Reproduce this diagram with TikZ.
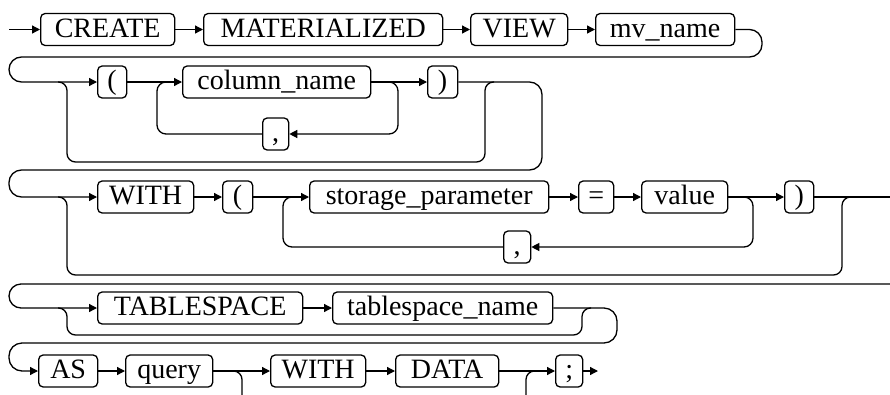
\documentclass[tikz,border=0pt]{standalone}
\usepackage{fontspec}
\setmainfont{Liberation Serif}
\usetikzlibrary{arrows.meta}
\begin{document}
\begin{tikzpicture}[x=1pt,y=-1pt,
  line width=1.3pt,
  box/.style={draw, rounded corners=4.5pt, anchor=west, inner sep=0pt,
    minimum height=32pt, text height=20pt, text depth=5pt,
    font=\fontsize{28}{30}\selectfont},
  arr/.style={-{Triangle[length=8pt,width=8pt]}},
  rc/.style={rounded corners=#1}]
\clip (0,0) rectangle (890,394);
% row 1
\coordinate (start) at (9,29.5);
\node[box, minimum width=134pt] (create) at (40,29.5) {CREATE};
\node[box, minimum width=239pt] (mat) at (203,29.5) {MATERIALIZED};
\node[box, minimum width=97pt] (view) at (470,29.5) {VIEW};
\node[box, minimum width=139pt] (mv) at (595,29.5) {mv\_name};
% row 2
\node[box, minimum width=29pt] (lpa) at (97,82) {(};
\node[box, minimum width=188pt] (col) at (182,82) {column\_name};
\node[box, minimum width=30pt] (rpa) at (427,82) {)};
\node[box, minimum width=26pt] (cma) at (262,134) {,};
% row 3
\node[box, minimum width=96pt] (witha) at (97,197) {WITH};
\node[box, minimum width=30pt] (lpb) at (222,197) {(};
\node[box, minimum width=239pt] (sp) at (309,197) {storage\_parameter};
\node[box, minimum width=35pt] (eq) at (578,197) {=};
\node[box, minimum width=86pt] (val) at (641,197) {value};
\node[box, minimum width=29pt] (rpb) at (784,197) {)};
\node[box, minimum width=27pt] (cmb) at (503,247) {,};
% row 4
\node[box, minimum width=205pt] (ts) at (97,308) {TABLESPACE};
\node[box, minimum width=220pt] (tsn) at (332,308) {tablespace\_name};
% row 5
\node[box, minimum width=59pt] (as) at (38,371) {AS};
\node[box, minimum width=87pt] (query) at (125,371) {query};
\node[box, minimum width=95pt] (withb) at (270,371) {WITH};
\node[box, minimum width=103pt] (data) at (395,371) {DATA};
\node[box, minimum width=27pt] (semi) at (555,371) {;};
\coordinate (endp) at (598,371);

% junction coordinates
\coordinate (e1a) at (762,29.5);
\coordinate (e1b) at (9,57);
\coordinate (b2s) at (58,82);
\coordinate (b2e) at (494,82);
\coordinate (l2s) at (389,82);
\coordinate (l2e) at (166,82);
\coordinate (e2a) at (542,82);
\coordinate (e2b) at (9,170);
\coordinate (b3s) at (58,197);
\coordinate (b3e) at (851,197);
\coordinate (l3s) at (744,197);
\coordinate (l3e) at (292,197);
\coordinate (e3a) at (890,197);
\coordinate (e3b) at (890,284);
\coordinate (e3c) at (9,284);
\coordinate (b4s) at (58,308);
\coordinate (b4e) at (591,308);
\coordinate (e4a) at (617,308);
\coordinate (e4b) at (9,343);
\coordinate (b5s) at (233,371);
\coordinate (b5e) at (535,371);

% row 1
\draw[arr] (start) -- (create.west);
\draw[arr] (create.east) -- (mat.west);
\draw[arr] (mat.east) -- (view.west);
\draw[arr] (view.east) -- (mv.west);
\draw[arr, rc=12.5] (mv.east) -- (e1a) -- (e1a |- e1b) -- (e1b) -- (e1b |- lpa) -- (lpa.west);
% row 2
\draw[arr] (lpa.east) -- (col.west);
\draw[arr] (col.east) -- (rpa.west);
\draw[arr, rc=9] (l2s) -| (398,134) -- (cma.east);
\draw[rc=9] (cma.west) -| (157,82) -- (l2e);
\draw[rc=8.5] (b2s) -| (67,162) -| (485,82) -- (b2e);
\draw[arr, rc=12.5] (rpa.east) -- (e2a) -- (e2a |- e2b) -- (e2b) -- (e2b |- witha) -- (witha.west);
% row 3
\draw[arr] (witha.east) -- (lpb.west);
\draw[arr] (lpb.east) -- (sp.west);
\draw[arr] (sp.east) -- (eq.west);
\draw[arr] (eq.east) -- (val.west);
\draw[arr] (val.east) -- (rpb.west);
\draw[arr, rc=9] (l3s) -| (753,247) -- (cmb.east);
\draw[rc=9] (cmb.west) -| (283,197) -- (l3e);
\draw[rc=8.5] (b3s) -| (67,275) -| (842,197) -- (b3e);
\draw (rpb.east) -- (e3a);
\draw[arr, rc=12] (e3b) -- (e3c) -- (e3c |- ts) -- (ts.west);
% row 4
\draw[arr] (ts.east) -- (tsn.west);
\draw[rc=8.5] (b4s) -| (67,335) -- (582,335) |- (b4e);
\draw[arr, rc=13] (tsn.east) -- (e4a) -- (e4a |- e4b) -- (e4b) -- (e4b |- as) -- (as.west);
% row 5
\draw[arr] (as.east) -- (query.west);
\draw[arr] (query.east) -- (withb.west);
\draw[arr] (withb.east) -- (data.west);
\draw[arr] (data.east) -- (semi.west);
\draw[arr] (semi.east) -- (endp);
\draw[rc=8.5] (b5s) -| (242,400);
\draw[rc=8.5] (526,400) |- (b5e);
\end{tikzpicture}
\end{document}
